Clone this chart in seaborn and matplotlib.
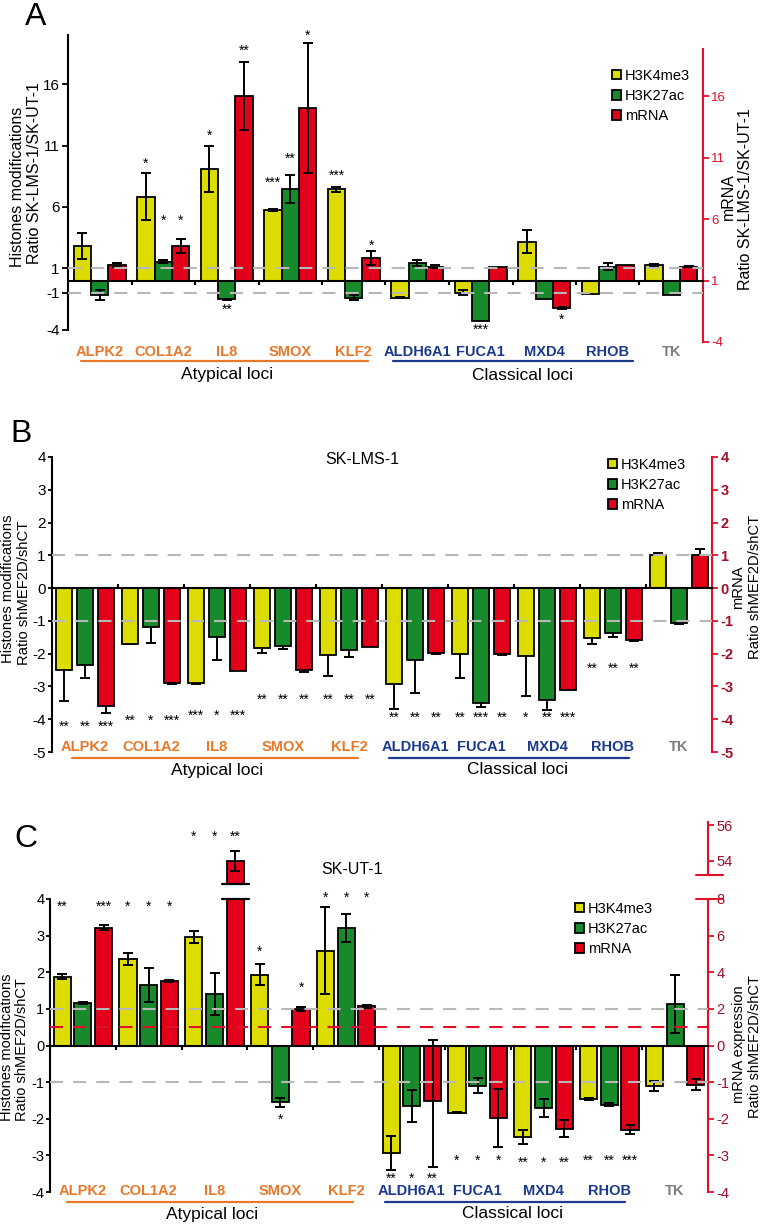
import numpy as np
import pandas as pd
import matplotlib
matplotlib.use('Agg')
import matplotlib.pyplot as plt
import matplotlib.transforms as mtransforms
from matplotlib.patches import Patch
import seaborn as sns

# ------------------------------------------------------------------ data
genes = ['ALPK2', 'COL1A2', 'IL8', 'SMOX', 'KLF2', 'ALDH6A1', 'FUCA1', 'MXD4', 'RHOB', 'TK']
gene_group = ['atypical'] * 5 + ['classical'] * 4 + ['control']
series = ['H3K4me3', 'H3K27ac', 'mRNA']

# Panel A  (histones on left axis, mRNA on right axis)
a_k4 = [2.82, 6.83, 9.08, 5.75, 7.43, -1.38, -0.98, 3.17, -1.08, 1.27]
a_k4_err = [1.08, 1.90, 1.90, 0.10, 0.20, 0.05, 0.23, 0.92, 0.0, 0.08]
a_k27 = [-1.17, 1.54, -1.52, 7.43, -1.38, 1.41, -3.25, -1.49, 1.14, -1.17]
a_k27_err = [0.42, 0.14, 0.05, 1.15, 0.20, 0.24, 0.0, 0.0, 0.30, 0.0]
a_mrna = [2.27, 3.82, 16.04, 15.07, 2.87, 2.14, 2.14, -1.25, 2.27, 2.14]
a_mrna_err = [0.14, 0.60, 2.80, 5.30, 0.58, 0.10, 0.0, 0.10, 0.0, 0.07]
a_stars = [('', '', ''), ('*', '*', '*'), ('*', '**', '**'), ('***', '**', '*'), ('***', '', '*'),
           ('', '', ''), ('', '***', ''), ('', '', '*'), ('', '', ''), ('', '', '')]
a_star_y = [(0, 0, 0), (9.8, 5.2, 5.2), (12.06, -2.1, 19.0), (8.3, 10.2, 20.2), (8.8, 0, 3.17),
            (0, 0, 0), (0, -3.7, 0), (0, 0, -2.9), (0, 0, 0), (0, 0, 0)]

# Panel B  (SK-LMS-1)
b_k4 = [-2.51, -1.69, -2.90, -1.83, -2.05, -2.94, -2.00, -2.08, -1.53, 1.00]
b_k4_err = [0.92, 0.03, 0.03, 0.15, 0.62, 0.75, 0.75, 1.20, 0.16, 0.07]
b_k27 = [-2.36, -1.19, -1.50, -1.78, -1.90, -2.20, -3.50, -3.40, -1.38, -1.07]
b_k27_err = [0.39, 0.48, 0.70, 0.08, 0.21, 1.00, 0.12, 0.33, 0.12, 0.04]
b_mrna = [-3.59, -2.90, -2.52, -2.51, -1.81, -1.98, -2.00, -3.10, -1.59, 1.00]
b_mrna_err = [0.22, 0.03, 0.0, 0.04, 0.0, 0.03, 0.03, 0.0, 0.02, 0.19]
b_stars = [('**', '**', '***'), ('**', '*', '***'), ('***', '*', '***'), ('**', '**', '**'),
           ('**', '**', '**'), ('**', '**', '**'), ('**', '***', '**'), ('*', '**', '***'),
           ('**', '**', '**'), ('', '', '')]
b_star_y = [(-4.12,) * 3, (-3.95,) * 3, (-3.79,) * 3, (-3.31,) * 3, (-3.31,) * 3,
            (-3.86,) * 3, (-3.86,) * 3, (-3.86,) * 3, (-2.35,) * 3, (0, 0, 0)]

# Panel C  (SK-UT-1)
c_k4 = [1.88, 2.36, 2.96, 1.93, 2.59, -2.94, -1.83, -2.50, -1.46, -1.10]
c_k4_err = [0.07, 0.16, 0.17, 0.29, 1.19, 0.47, 0.02, 0.20, 0.04, 0.14]
c_k27 = [1.17, 1.65, 1.41, -1.55, 3.20, -1.65, -1.10, -1.71, -1.62, 1.14]
c_k27_err = [0.03, 0.46, 0.58, 0.12, 0.38, 0.43, 0.20, 0.24, 0.04, 0.79]
c_mrna = [6.44, 3.53, 54.0, 2.00, 2.13, -1.51, -1.98, -2.27, -2.30, -1.07]
c_mrna_err = [0.14, 0.05, 0.55, 0.12, 0.06, 1.80, 0.78, 0.24, 0.13, 0.15]
c_stars = [('**', '', '***'), ('*', '*', '*'), ('*', '*', '**'), ('*', '*', '*'), ('*', '*', '*'),
           ('**', '*', '**'), ('*', '*', '*'), ('**', '*', '**'), ('**', '**', '***'), ('', '', '')]
c_star_y = [(3.88, 0, 3.88), (3.88,) * 3, (5.8,) * 3, (2.67, -1.94, 1.67), (4.13,) * 3,
            (-3.55,) * 3, (-3.05,) * 3, (-3.1,) * 3, (-3.05,) * 3, (0, 0, 0)]

# ------------------------------------------------------------------ style
sns.set_theme(style='ticks', rc={'axes.edgecolor': 'black', 'xtick.color': 'black',
                                 'ytick.color': 'black', 'text.color': 'black',
                                 'axes.labelcolor': 'black'})
plt.rcParams['font.family'] = ['Liberation Sans', 'DejaVu Sans']
plt.rcParams['axes.unicode_minus'] = False

YELLOW = '#dcdc00'
GREEN = '#178a2c'
RED = '#e2001a'
ORANGE = '#e8782a'
NAVY = '#1c3a8c'
GREY_TXT = '#7f7f7f'
DASH_GREY = '#b8b8b8'
SPINE_RED = '#e0102a'
DARK_RED = '#a0102a'
palette = dict(zip(series, [YELLOW, GREEN, RED]))
label_colors = {'atypical': ORANGE, 'classical': NAVY, 'control': GREY_TXT}

W, H = 761, 1224
fig = plt.figure(figsize=(W / 100, H / 100), dpi=100)


def rect(l, t, r, b):
    return [l / W, 1 - b / H, (r - l) / W, (b - t) / H]


def fy(py):
    return 1 - py / H


EKW = dict(fmt='none', ecolor='black', elinewidth=1.4, capsize=3.5, capthick=1.4)


def draw_panel(box, k4, k4e, k27, k27e, mrna, mrnae, stars, star_y, *, width, gap, ylim,
               yticks, spine_bounds, tick_dir, err_front, mrna_base, twin_ylim, twin_ticks,
               twin_bounds, twin_color, twin_fs, twin_weight='normal', twin_scale=None,
               cat_py, line_py, grp_py, orange_span, blue_span, grp_x, legend_px,
               tick_fs=11, tick_len=4, tick_pad=2):
    ax = fig.add_axes(box)
    ax2 = ax.twinx()
    ax2.set_zorder(ax.get_zorder() - 1)
    ax.patch.set_visible(False)
    ax2.patch.set_visible(False)

    n = len(genes)
    df = pd.DataFrame({'gene': genes * 2,
                       'mark': [series[0]] * n + [series[1]] * n,
                       'value': list(k4) + list(k27)})
    sns.barplot(data=df, x='gene', y='value', hue='mark', order=genes, hue_order=series,
                palette=palette, width=width, gap=gap, saturation=1, errorbar=None,
                edgecolor='black', linewidth=1.3, legend=False, ax=ax)
    step = width / 3
    bw = step * (1 - gap)
    xs = np.arange(n)
    ez = 3 if err_front else 0.5
    for k, (vals, errs) in enumerate([(k4, k4e), (k27, k27e)]):
        vals, errs = np.asarray(vals, float), np.asarray(errs, float)
        m = errs > 0
        ax.errorbar(xs[m] + (k - 1) * step, vals[m], yerr=errs[m], zorder=ez, **EKW)

    if twin_scale is not None:
        ax2.set_yscale('function', functions=twin_scale)
    ax2.set_ylim(*twin_ylim)
    mv, me = np.asarray(mrna, float), np.asarray(mrnae, float)
    ax2.bar(xs + step, mv - mrna_base, bottom=mrna_base, width=bw, color=RED,
            edgecolor='black', linewidth=1.3, zorder=1)
    m = me > 0
    ax2.errorbar(xs[m] + step, mv[m], yerr=me[m], zorder=ez, **EKW)

    # stars
    for i in range(n):
        for k in range(3):
            s = stars[i][k]
            if s:
                ax.annotate(s, (xs[i] + (k - 1) * step, star_y[i][k]), xytext=(0, -5.5),
                            textcoords='offset points', ha='center', va='baseline',
                            fontsize=10, annotation_clip=False, zorder=6)

    # spines / ticks
    ax.spines['top'].set_visible(False)
    ax.spines['right'].set_visible(False)
    ax.spines['left'].set_linewidth(1.5)
    ax.spines['left'].set_bounds(*spine_bounds)
    ax.spines['bottom'].set_position(('data', 0))
    ax.spines['bottom'].set_linewidth(1.5)
    ax.set_xticks(xs[:-1] + 0.5)
    ax.tick_params(axis='x', direction=tick_dir, length=3, width=1.5, labelbottom=False)
    ax.set_yticks(yticks)
    ax.set_yticklabels([str(t) for t in yticks])
    ax.tick_params(axis='y', direction='out', length=tick_len, width=1.3, labelsize=tick_fs,
                   pad=tick_pad)
    ax.set_xlabel('')
    ax.set_ylabel('')

    for s in ['top', 'left', 'bottom']:
        ax2.spines[s].set_visible(False)
    ax2.spines['right'].set_color(SPINE_RED)
    ax2.spines['right'].set_linewidth(1.5)
    ax2.spines['right'].set_bounds(*twin_bounds)
    ax2.set_yticks(twin_ticks)
    ax2.set_yticklabels([str(t) for t in twin_ticks], fontweight=twin_weight)
    ax2.tick_params(axis='y', direction='out', length=4, width=1.3, color=SPINE_RED,
                    labelcolor=twin_color, labelsize=twin_fs, pad=2)

    # category labels below the axis
    tr = mtransforms.blended_transform_factory(ax.transData, fig.transFigure)
    for i, g in enumerate(genes):
        ax.text(i, fy(cat_py), g, transform=tr, ha='center', va='center', fontsize=10.5,
                fontweight='bold', color=label_colors[gene_group[i]])
    ax.plot(orange_span, [fy(line_py)] * 2, transform=tr, color=ORANGE, lw=1.6, clip_on=False)
    ax.plot(blue_span, [fy(line_py)] * 2, transform=tr, color=NAVY, lw=1.6, clip_on=False)
    ax.text(grp_x[0], fy(grp_py), 'Atypical loci', transform=tr, ha='center', va='center',
            fontsize=12.5)
    ax.text(grp_x[1], fy(grp_py), 'Classical loci', transform=tr, ha='center', va='center',
            fontsize=12.5)

    handles = [Patch(facecolor=palette[s], edgecolor='black', linewidth=1.3, label=s)
               for s in series]
    ax.legend(handles=handles, loc='upper left',
              bbox_to_anchor=(legend_px[0] / W, fy(legend_px[1])),
              bbox_transform=fig.transFigure, frameon=False, fontsize=10.5,
              handlelength=0.6, handleheight=0.6, handletextpad=0.3, labelspacing=0.42,
              borderpad=0, borderaxespad=0)

    ax.set_xlim(-0.5, n - 0.5)
    ax.set_ylim(*ylim)
    ax2.set_ylim(*twin_ylim)
    return ax, ax2, step, bw


def dashed(ax, y, color):
    ax.axhline(y, color=color, lw=1.5, dashes=(6.3, 4.8), zorder=4)


# ------------------------------------------------------------------ Panel A
axA, axA2, stA, bwA = draw_panel(
    rect(68, 35, 703, 342), a_k4, a_k4_err, a_k27, a_k27_err, a_mrna, a_mrna_err,
    a_stars, a_star_y, width=0.82, gap=0.0, ylim=(-5, 20), yticks=[-4, -1, 1, 6, 11, 16],
    spine_bounds=(-4, 20), tick_dir='out', err_front=True, mrna_base=1,
    twin_ylim=(-4, 21), twin_ticks=[-4, 1, 6, 11, 16], twin_bounds=(-4, 19.9),
    twin_color=SPINE_RED, twin_fs=9.5, cat_py=352, line_py=361, grp_py=375,
    orange_span=(-0.3, 4.22), blue_span=(4.62, 8.4), grp_x=(2.0, 6.65), legend_px=(612, 69))
dashed(axA, 1, DASH_GREY)
dashed(axA, -1, DASH_GREY)

# ------------------------------------------------------------------ Panel B
axB, axB2, stB, bwB = draw_panel(
    rect(52, 457, 712, 752), b_k4, b_k4_err, b_k27, b_k27_err, b_mrna, b_mrna_err,
    b_stars, b_star_y, width=0.96, gap=0.234, ylim=(-5, 4), yticks=list(range(-5, 5)),
    spine_bounds=(-5, 4), tick_dir='in', err_front=False, mrna_base=0,
    twin_ylim=(-5, 4), twin_ticks=list(range(-5, 5)), twin_bounds=(-5, 4),
    twin_color=DARK_RED, twin_fs=10.5, twin_weight='bold', cat_py=747, line_py=758,
    grp_py=770, orange_span=(-0.2, 4.14), blue_span=(4.6, 8.24), grp_x=(2.0, 6.55),
    legend_px=(608, 458), tick_len=3, tick_pad=1.5)
dashed(axB, 1, DASH_GREY)
dashed(axB, -1, DASH_GREY)


# ------------------------------------------------------------------ Panel C
def fwd(y):
    y = np.asarray(y, float)
    return np.where(y > 0, y / 2.0, y)


def inv(y):
    y = np.asarray(y, float)
    return np.where(y > 0, y * 2.0, y)


axC, axC2, stC, bwC = draw_panel(
    rect(50, 899, 708, 1192), c_k4, c_k4_err, c_k27, c_k27_err, c_mrna, c_mrna_err,
    c_stars, c_star_y, width=0.945, gap=0.175, ylim=(-4, 4), yticks=list(range(-4, 5)),
    spine_bounds=(-4, 4), tick_dir='out', err_front=True, mrna_base=0,
    twin_ylim=(-4, 8), twin_ticks=[-4, -3, -2, -1, 0, 2, 4, 6, 8], twin_bounds=(-4, 8),
    twin_color=DARK_RED, twin_fs=10.5, twin_scale=(fwd, inv), cat_py=1191, line_py=1202,
    grp_py=1214, orange_span=(-0.24, 4.1), blue_span=(4.59, 8.24), grp_x=(1.97, 6.53),
    legend_px=(575, 902), tick_fs=10.5, tick_len=3, tick_pad=1)
dashed(axC, 1, DASH_GREY)
dashed(axC, -1, DASH_GREY)
dashed(axC, 0.5, SPINE_RED)

# broken upper segment of the mRNA axis
axU = fig.add_axes(rect(50, 820, 708, 884))
axU.patch.set_visible(False)
axU.set_xlim(-0.5, len(genes) - 0.5)
axU.set_ylim(52.72, 56.28)
ylo = axU.get_ylim()[0]
top_lower = axC2.get_ylim()[1]
cm, ce = np.asarray(c_mrna, float), np.asarray(c_mrna_err, float)
big = cm > top_lower
xb = np.arange(len(genes))[big] + stC
axU.bar(xb, cm[big] - ylo, bottom=ylo, width=bwC, color=RED, edgecolor='black',
        linewidth=1.3, zorder=1)
axU.errorbar(xb, cm[big], yerr=ce[big], zorder=3, **EKW)
for x in xb:
    axU.plot([x - 0.205, x + 0.205], [ylo, ylo], color='black', lw=1.6, clip_on=False, zorder=4)
    axC2.plot([x - 0.205, x + 0.205], [top_lower, top_lower], color='black', lw=1.6,
              clip_on=False, zorder=4)
for s in ['top', 'left', 'bottom']:
    axU.spines[s].set_visible(False)
axU.spines['right'].set_color(SPINE_RED)
axU.spines['right'].set_linewidth(1.5)
axU.spines['right'].set_bounds(53.22, 56.17)
axU.set_xticks([])
axU.yaxis.tick_right()
axU.set_yticks([54, 56])
axU.set_yticklabels(['54', '56'])
axU.tick_params(axis='y', direction='out', length=4, width=1.3, color=SPINE_RED,
                labelcolor=DARK_RED, labelsize=10.5, pad=2)
trU = mtransforms.blended_transform_factory(axU.transAxes, axU.transData)
axU.plot([0.982, 1.023], [53.22, 53.22], transform=trU, color=SPINE_RED, lw=1.5, clip_on=False)
trC2 = mtransforms.blended_transform_factory(axC2.transAxes, axC2.transData)
axC2.plot([0.982, 1.023], [top_lower, top_lower], transform=trC2, color=SPINE_RED, lw=1.5,
          clip_on=False)
axC2.set_ylim(-4, 8)

# ------------------------------------------------------------------ texts
def vtext(px, py, s, fs):
    fig.text(px / W, fy(py), s, rotation=90, ha='center', va='center', fontsize=fs)


vtext(18, 187, 'Histones modifications', 11.5)
vtext(35, 173, 'Ratio SK-LMS-1/SK-UT-1', 11.5)
vtext(728, 197, 'mRNA', 11.5)
vtext(745, 199, 'Ratio SK-LMS-1/SK-UT-1', 11.5)

vtext(8, 589, 'Histones modifications', 10.6)
vtext(24, 593, 'Ratio shMEF2D/shCT', 10.6)
vtext(738, 587, 'mRNA', 10.6)
vtext(755, 587, 'Ratio shMEF2D/shCT', 10.6)

vtext(7, 1047, 'Histones modifications', 10.5)
vtext(22, 1050, 'Ratio shMEF2D/shCT', 10.5)
vtext(739, 1044, 'mRNA expression', 10.5)
vtext(755, 1047, 'Ratio shMEF2D/shCT', 10.5)

fig.text(362 / W, fy(459), 'SK-LMS-1', ha='center', va='center', fontsize=11.5)
fig.text(352 / W, fy(869), 'SK-UT-1', ha='center', va='center', fontsize=11.5)

fig.text(36 / W, fy(17), 'A', ha='center', va='center', fontsize=23)
fig.text(21 / W, fy(434), 'B', ha='center', va='center', fontsize=23)
fig.text(26 / W, fy(839), 'C', ha='center', va='center', fontsize=23)

fig.savefig('out.png', dpi=100)
